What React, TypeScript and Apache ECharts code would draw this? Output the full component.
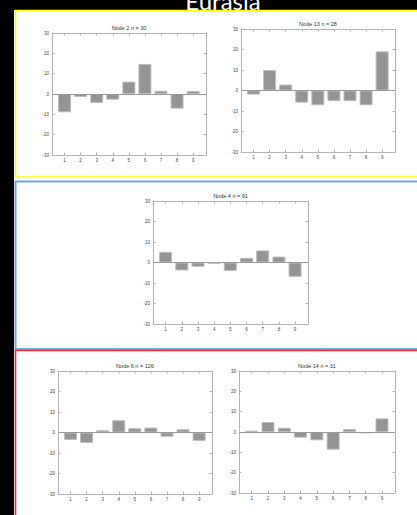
import React, { useEffect, useRef } from 'react';
import * as echarts from 'echarts';

// ---- data ----
const xTicks = [1, 2, 3, 4, 5, 6, 7, 8, 9];
const node2 = [-9.0, -1.5, -4.4, -2.8, 6.1, 14.8, 1.6, -7.2, 1.5];
const node13 = [-2.0, 10.0, 2.9, -5.9, -7.2, -5.2, -5.2, -7.2, 19.1];
const node4 = [5.2, -3.9, -2.1, -0.6, -4.1, 2.3, 5.9, 2.9, -7.0];
const node6 = [-3.6, -5.1, 1.1, 6.0, 2.1, 2.4, -2.1, 1.6, -4.1];
const node14 = [0.7, 4.9, 2.1, -2.8, -4.1, -8.7, 1.5, -0.7, 6.7];
const titles = ['Node 2 n = 30', 'Node 13 n = 28', 'Node 4 n = 91', 'Node 6 n = 126', 'Node 14 n = 31'];
const values = [node2, node13, node4, node6, node14];
const mainTitle = 'Eurasia';

// ---- layout (left, top, width, height) ----
const boxes = [
  [52, 33, 154, 122],
  [241, 29, 154, 123],
  [153, 201, 155, 123],
  [58, 371, 154, 123],
  [239, 371, 156, 122],
];

const AXIS = '#b4b4b4';
const LABEL = '#444';
const BAR = '#949494';
const BAR_EDGE = '#bdbdbd';
const FONT = '"Liberation Sans", Arial, sans-serif';

export default function App() {
  const ref = useRef<HTMLDivElement>(null);
  useEffect(() => {
    const chart = echarts.init(ref.current!, null, { renderer: 'svg' });
    const grid: any[] = [];
    const xAxis: any[] = [];
    const yAxis: any[] = [];
    const series: any[] = [];
    const graphic: any[] = [
      { type: 'rect', z: -10, shape: { x: 14, y: 10, width: 410, height: 510 }, style: { fill: '#fff' } },
      { type: 'rect', z: -9, shape: { x: 15.5, y: 10.5, width: 420, height: 166.5 }, style: { fill: '#fff', stroke: '#ffff00', lineWidth: 1.6 } },
      { type: 'rect', z: -9, shape: { x: 15.5, y: 181.5, width: 420, height: 167.5 }, style: { fill: '#fff', stroke: '#6fa8dc', lineWidth: 2 } },
      { type: 'rect', z: -9, shape: { x: 15.5, y: 350.5, width: 420, height: 200 }, style: { fill: '#fff', stroke: '#ee2a2a', lineWidth: 1.6 } },
      {
        type: 'text', z: 10, x: 223, y: 12,
        style: { text: mainTitle, fill: '#fff', fontSize: 24, fontFamily: 'Lato, "Open Sans", sans-serif', align: 'center', verticalAlign: 'bottom', textAlign: 'center', textVerticalAlign: 'bottom' },
      },
    ];
    boxes.forEach((b, i) => {
      const [l, t, w, h] = b;
      grid.push({ left: l, top: t, width: w, height: h });
      const axisLine = { show: true, onZero: false, lineStyle: { color: AXIS, width: 1 } };
      const tick = { show: true, inside: true, length: 2.5, lineStyle: { color: AXIS, width: 1 } };
      const label = { fontSize: 4.5, color: LABEL, margin: 3, fontFamily: FONT };
      xAxis.push({
        type: 'value', gridIndex: i, min: 0.22, max: 9.8, position: 'bottom', axisLine,
        axisTick: { ...tick, customValues: xTicks },
        axisLabel: { ...label, customValues: xTicks },
        splitLine: { show: false },
      });
      xAxis.push({
        type: 'value', gridIndex: i, min: 0.22, max: 9.8, position: 'top', axisLine,
        axisTick: { ...tick, customValues: xTicks },
        axisLabel: { show: false },
        splitLine: { show: false },
      });
      yAxis.push({
        type: 'value', gridIndex: i, min: -30, max: 30, interval: 10, position: 'left', axisLine,
        axisTick: tick, axisLabel: label, splitLine: { show: false },
      });
      yAxis.push({
        type: 'value', gridIndex: i, min: -30, max: 30, interval: 10, position: 'right', axisLine,
        axisTick: tick, axisLabel: { show: false }, splitLine: { show: false },
      });
      series.push({
        type: 'bar', xAxisIndex: 2 * i, yAxisIndex: 2 * i,
        data: values[i].map((v, k) => [xTicks[k], v]),
        barWidth: 13,
        itemStyle: { color: BAR, borderColor: BAR_EDGE, borderWidth: 1 },
        markLine: {
          silent: true, symbol: 'none', label: { show: false },
          lineStyle: { color: '#9a9a9a', width: 1, type: 'solid' },
          data: [{ yAxis: 0 }],
        },
      });
      graphic.push({
        type: 'text', z: 10, x: l + w / 2, y: t - 5,
        style: { text: titles[i], fill: '#333', fontSize: 5.5, fontFamily: FONT, align: 'center', verticalAlign: 'middle', textAlign: 'center', textVerticalAlign: 'middle' },
      });
    });
    chart.setOption({
      animation: false,
      backgroundColor: '#000',
      grid, xAxis, yAxis, series, graphic,
    });
    return () => chart.dispose();
  }, []);
  return <div ref={ref} style={{ position: 'fixed', left: 0, top: 0, width: 417, height: 515 }} />;
}
